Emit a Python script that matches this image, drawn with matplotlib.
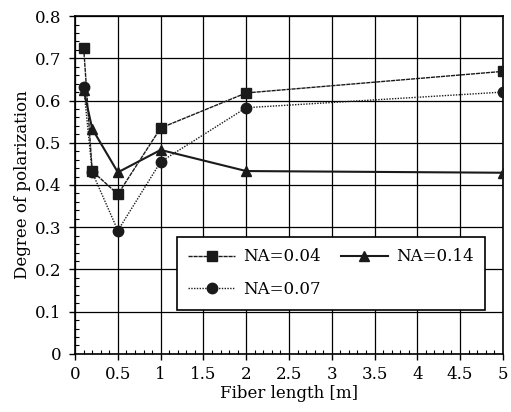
import matplotlib.pyplot as plt
from matplotlib.ticker import MultipleLocator, FormatStrFormatter

# data
length = [0.1, 0.2, 0.5, 1, 2, 5]
na_004 = [0.725, 0.433, 0.378, 0.535, 0.618, 0.669]
na_007 = [0.632, 0.430, 0.292, 0.455, 0.583, 0.620]
na_014 = [0.625, 0.533, 0.430, 0.483, 0.433, 0.429]

plt.rcParams['font.family'] = ['DejaVu Serif']

fig = plt.figure(figsize=(5.11, 4.12), dpi=100)
ax = fig.add_axes([0.147, 0.141, 0.837, 0.820])

ax.plot(length, na_004, 's', ls=(0, (3, 0.6)), color='0.1', lw=1.0, ms=7, label='NA=0.04', zorder=3)
ax.plot(length, na_007, 'o', ls=(0, (1, 1)), color='0.1', lw=1.0, ms=7.5, label='NA=0.07', zorder=3)
ax.plot(length, na_014, '^', ls='-', color='0.1', lw=1.5, ms=7, label='NA=0.14', zorder=3)

ax.set_xlim(0, 5)
ax.set_ylim(0, 0.8)
ax.xaxis.set_major_locator(MultipleLocator(0.5))
ax.xaxis.set_minor_locator(MultipleLocator(0.1))
ax.yaxis.set_major_locator(MultipleLocator(0.1))
ax.yaxis.set_minor_locator(MultipleLocator(0.02))
ax.xaxis.set_major_formatter(FormatStrFormatter('%g'))
ax.yaxis.set_major_formatter(FormatStrFormatter('%g'))
ax.tick_params(which='major', direction='out', length=4, width=1, labelsize=12, color='k')
ax.tick_params(axis='x', which='major', pad=5)
ax.tick_params(axis='y', which='major', pad=6)
ax.tick_params(which='minor', direction='in', length=3, width=0.8)
ax.grid(True, which='major', color='k', lw=0.9)
for s in ax.spines.values():
    s.set_linewidth(1.2)

ax.set_xlabel('Fiber length [m]', fontsize=12, labelpad=1)
ax.set_ylabel('Degree of polarization', fontsize=12, labelpad=3)

leg = ax.legend(ncol=2, loc='upper left', bbox_to_anchor=(0.238, 0.346), borderaxespad=0,
                fontsize=12, frameon=True, fancybox=False, framealpha=1,
                edgecolor='k', handlelength=2.8, borderpad=0.68, labelspacing=0.95,
                columnspacing=1.2, handletextpad=0.5)
leg.get_frame().set_linewidth(1.2)
leg.set_zorder(5)

fig.savefig('out.png', dpi=100)
